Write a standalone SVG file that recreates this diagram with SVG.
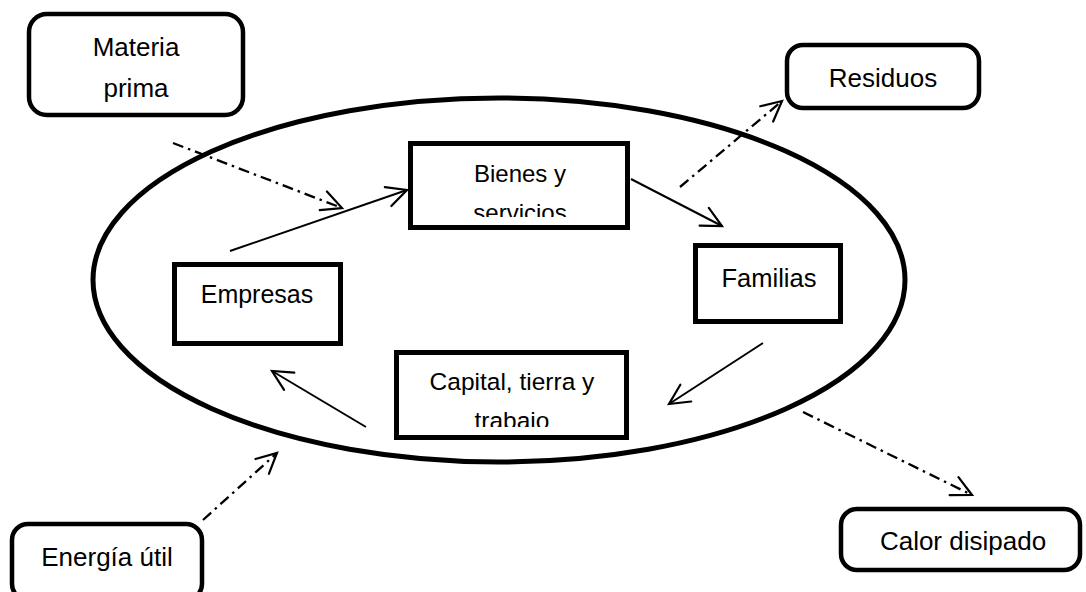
<svg xmlns="http://www.w3.org/2000/svg" width="1086" height="592" viewBox="0 0 1086 592">
<style>
.rbox{fill:#fff;stroke:#000;stroke-width:4.5}
.box{fill:#fff;stroke:#000;stroke-width:5}
.t{font-family:"Liberation Sans",Arial,sans-serif;fill:#000;text-anchor:middle}
.out{font-size:26px}
.in{font-size:25px}
.solid{stroke:#000;stroke-width:2;fill:none;marker-end:url(#arr)}
.dd{stroke:#000;stroke-width:2.3;fill:none;stroke-dasharray:11 5 2.5 5;marker-end:url(#arr)}
</style>
<defs>
<marker id="arr" markerUnits="userSpaceOnUse" markerWidth="30" markerHeight="30" viewBox="-25 -15 30 30" refX="0" refY="0" orient="auto">
<path d="M-20,-10 L0,0 L-20,10" fill="none" stroke="#000" stroke-width="2.2" stroke-linecap="round" stroke-linejoin="miter"/>
</marker>
<clipPath id="clipB"><rect x="413" y="146" width="212" height="71"/></clipPath>
<clipPath id="clipC"><rect x="399" y="355" width="225" height="72"/></clipPath>
</defs>
<ellipse id="economia" cx="499" cy="280" rx="406" ry="182" fill="none" stroke="#000" stroke-width="5"/>
<g id="materia-prima">
<rect class="rbox" x="29" y="14" width="214" height="101" rx="18"/>
<text class="t out" x="136" y="56">Materia</text>
<text class="t out" x="136" y="97">prima</text>
</g>
<g id="residuos">
<rect class="rbox" x="787" y="45" width="192" height="63" rx="16"/>
<text class="t out" x="883" y="87">Residuos</text>
</g>
<g id="calor-disipado">
<rect class="rbox" x="841" y="509" width="239" height="61" rx="16"/>
<text class="t out" x="963" y="550">Calor disipado</text>
</g>
<g id="energia-util">
<rect class="rbox" x="12" y="524" width="190" height="76" rx="16"/>
<text class="t out" x="107" y="566">Energía útil</text>
</g>
<g id="bienes-servicios">
<rect class="box" x="410.5" y="143.5" width="217" height="84"/>
<g clip-path="url(#clipB)">
<text class="t" style="font-size:24px" x="520" y="182">Bienes y</text>
<text class="t" style="font-size:24px" x="520" y="221">servicios</text>
</g>
</g>
<g id="empresas">
<rect class="box" x="174.5" y="264.5" width="166" height="79"/>
<text class="t in" x="257" y="303">Empresas</text>
</g>
<g id="familias">
<rect class="box" x="695.5" y="245.5" width="145" height="76"/>
<text class="t" style="font-size:25.5px" x="769" y="287">Familias</text>
</g>
<g id="capital-tierra-trabajo">
<rect class="box" x="396.5" y="352.5" width="230" height="85"/>
<g clip-path="url(#clipC)">
<text class="t" style="font-size:24.5px" x="512" y="390">Capital, tierra y</text>
<text class="t" style="font-size:24.5px" x="512" y="429">trabajo</text>
</g>
</g>
<g id="connectors">
<line class="solid" x1="230" y1="251" x2="407" y2="190"/>
<line class="solid" x1="631" y1="179" x2="722" y2="226"/>
<line class="solid" x1="763" y1="343" x2="669" y2="404"/>
<line class="solid" x1="366" y1="427" x2="272" y2="371"/>
<line class="dd" x1="173" y1="143" x2="342" y2="208"/>
<line class="dd" x1="680" y1="187" x2="782" y2="101"/>
<line class="dd" x1="803" y1="412" x2="972" y2="495"/>
<line class="dd" x1="203" y1="520" x2="277" y2="453"/>
</g>
</svg>
